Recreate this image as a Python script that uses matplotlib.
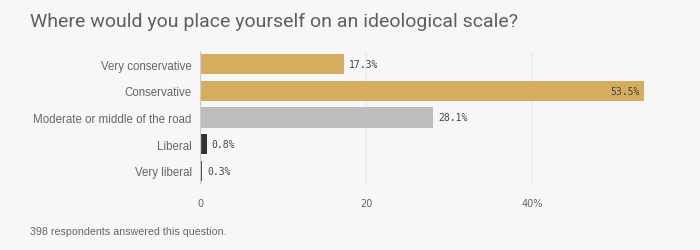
import matplotlib.pyplot as plt

categories = ['Very conservative', 'Conservative', 'Moderate or middle of the road', 'Liberal', 'Very liberal']
values = [17.3, 53.5, 28.1, 0.8, 0.3]
colors = ['#d4ae5e', '#d4ae5e', '#bdbdbd', '#333333', '#333333']
xticks = [0, 20, 40]
xticklabels = ['0', '20', '40%']

bg = '#f7f7f7'
fig = plt.figure(figsize=(7, 2.51), dpi=100, facecolor=bg)
ax = fig.add_axes([200 / 700, 66 / 251, 500 / 700, 133 / 251], facecolor=bg)

ypos = list(range(len(categories)))
ax.barh(ypos, values, height=0.76, color=colors, zorder=2)
ax.set_ylim(len(categories) - 0.5, -0.5)
ax.set_xlim(0, 500 / 8.3)

for x in xticks[1:]:
    ax.axvline(x, color='#ebebeb', lw=1.2, zorder=1)
ax.axvline(0, color='#cccccc', lw=1, zorder=3)

for y, v in zip(ypos, values):
    label = f'{v:.1f}%'
    if v > 45:
        ax.text(v - 0.5, y, label, ha='right', va='center', fontsize=7,
                family='DejaVu Sans Mono', color='#444444', zorder=4)
    else:
        ax.text(v + 0.6, y, label, ha='left', va='center', fontsize=7,
                family='DejaVu Sans Mono', color='#444444', zorder=4)

ax.set_yticks(ypos)
ax.set_yticklabels(categories, fontsize=8.3, color='#666666', family='Liberation Sans')
ax.set_xticks(xticks)
ax.set_xticklabels(xticklabels, fontsize=7, color='#666666')
ax.tick_params(axis='both', length=0)
ax.tick_params(axis='y', pad=6)
ax.tick_params(axis='x', pad=10)
for s in ax.spines.values():
    s.set_visible(False)

fig.text(30 / 700, 1 - 22 / 251, 'Where would you place yourself on an ideological scale?',
         fontsize=14, color='#5f5f5f', va='center', family='Roboto')
fig.text(30 / 700, 1 - 232 / 251, '398 respondents answered this question.',
         fontsize=7.7, color='#666666', va='center', family='Liberation Sans')

fig.savefig('out.png', dpi=100, facecolor=bg)
